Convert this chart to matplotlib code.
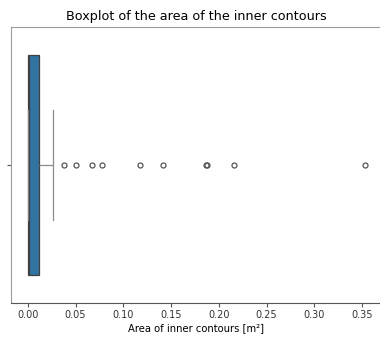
import matplotlib
matplotlib.use("Agg")
import matplotlib.pyplot as plt
import seaborn as sns
import pandas as pd

# Areas of the inner contours in m² (bulk of small contours plus a few large ones)
small_areas = [
    0.0000, 0.0000, 0.0000, 0.0000, 0.0000, 0.0000, 0.0001, 0.0001, 0.0001, 0.0001,
    0.0001, 0.0001, 0.0001, 0.0001, 0.0001, 0.0001, 0.0001, 0.0002, 0.0002, 0.0002,
    0.0003, 0.0003, 0.0003, 0.0004, 0.0004, 0.0005, 0.0005, 0.0006, 0.0006, 0.0007,
    0.0008, 0.0010, 0.0013, 0.0016, 0.0020, 0.0025, 0.0031, 0.0038, 0.0046, 0.0055,
    0.0064, 0.0074, 0.0085, 0.0097, 0.0117, 0.0121, 0.0138, 0.0166, 0.0210, 0.0265,
]
large_areas = [0.0379, 0.0502, 0.0676, 0.0780, 0.1170, 0.1414, 0.1862, 0.1872, 0.2163, 0.3532]

areas = pd.Series(small_areas + large_areas, name="area")

fig = plt.figure(figsize=(3.8, 3.4), dpi=100)
ax = fig.add_axes([11 / 380, 1 - 303 / 340, 371 / 380, 276 / 340])

whisker_style = dict(color="#8c8c8c", linewidth=0.9)
sns.boxplot(
    x=areas, ax=ax,
    linecolor="#404040", linewidth=0.9, fliersize=3.6,
    whiskerprops=whisker_style, capprops=whisker_style,
    flierprops=dict(markeredgecolor="#555555", markeredgewidth=0.9),
)

for spine in ax.spines.values():
    spine.set_color("#9a9a9a")
    spine.set_linewidth(0.8)
ax.spines["bottom"].set_color("#555555")

ax.set_title("Boxplot of the area of the inner contours", fontsize=9.2, pad=5)
ax.set_xlabel("Area of inner contours [m²]", fontsize=7.2, labelpad=2)
ax.tick_params(axis="x", labelsize=7.0, length=3, pad=2, color="#555555", labelcolor="#333333")
ax.tick_params(axis="y", length=3, color="#555555")

fig.savefig("out.png", dpi=100)
